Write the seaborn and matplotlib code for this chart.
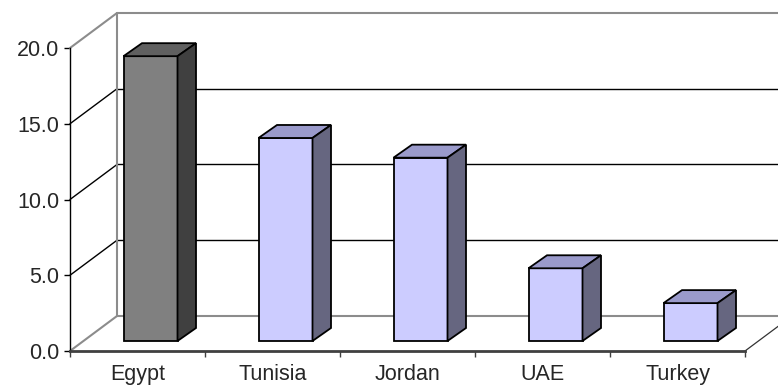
import matplotlib
matplotlib.use("Agg")
import matplotlib.pyplot as plt
from matplotlib.patches import Polygon
from matplotlib.transforms import ScaledTranslation
from matplotlib.ticker import FixedLocator, FormatStrFormatter
import seaborn as sns

# Data
countries = ["Egypt", "Tunisia", "Jordan", "UAE", "Turkey"]
values = [18.8, 13.4, 12.1, 4.8, 2.5]
y_ticks = [0, 5, 10, 15, 20]

# Face colours (front, top, side) for the highlighted bar and the others
front_hi, top_hi, side_hi = "#808080", "#606060", "#404040"
front_lo, top_lo, side_lo = "#ccccff", "#9a9acb", "#666680"

sns.set_style("white")
plt.rcParams["font.family"] = ["Liberation Sans", "DejaVu Sans"]

W, H, DPI = 778, 387, 100
fig = plt.figure(figsize=(W / DPI, H / DPI), dpi=DPI)
ax = fig.add_axes([70 / W, (H - 351) / H, 675 / W, 303 / H])

fronts = [front_hi] + [front_lo] * (len(countries) - 1)
tops = [top_hi] + [top_lo] * (len(countries) - 1)
sides = [side_hi] + [side_lo] * (len(countries) - 1)

sns.barplot(x=countries, y=values, hue=countries, palette=fronts, legend=False,
            saturation=1, width=0.4, edgecolor="black", linewidth=1.3, ax=ax,
            zorder=5)

ax.set_xlim(-0.5, len(countries) - 0.5)
ax.set_ylim(0, 20)

# pixel -> data unit conversion for depth offsets
ax_w_px = 675
ax_h_px = 303
ux = (ax.get_xlim()[1] - ax.get_xlim()[0]) / ax_w_px
uy = (ax.get_ylim()[1] - ax.get_ylim()[0]) / ax_h_px

# depth of the chart box and of each bar, in pixels
wall_dx, wall_dy = 47, 35
bar_dx, bar_dy = 18.5, 13
shift = ScaledTranslation(13 / DPI, 10 / DPI, fig.dpi_scale_trans)

x_lo, x_hi = ax.get_xlim()
wdx, wdy = wall_dx * ux, wall_dy * uy
wall_col = "#8c8c8c"

# side wall and back wall gridlines
for v in y_ticks:
    col = wall_col if v in (0, 20) else "black"
    lw = 1.5 if v in (0, 20) else 1.0
    ax.plot([x_lo, x_lo + wdx], [v, v + wdy], color=col, lw=lw, clip_on=False, zorder=1)
    ax.plot([x_lo + wdx, x_hi + wdx], [v + wdy, v + wdy], color=col, lw=lw,
            clip_on=False, zorder=1)
ax.plot([x_lo + wdx, x_lo + wdx], [wdy, 20 + wdy], color=wall_col, lw=1.5,
        clip_on=False, zorder=1)
ax.plot([x_hi, x_hi + wdx], [0, wdy], color="#333333", lw=0.9, clip_on=False, zorder=1)

# 3D faces on each bar
bdx, bdy = bar_dx * ux, bar_dy * uy
for patch, top_c, side_c in zip(ax.patches, tops, sides):
    patch.set_transform(ax.transData + shift)
    patch.set_clip_on(False)
    x0 = patch.get_x()
    x1 = x0 + patch.get_width()
    h = patch.get_height()
    top = Polygon([(x0, h), (x1, h), (x1 + bdx, h + bdy), (x0 + bdx, h + bdy)],
                  closed=True, facecolor=top_c, edgecolor="black", lw=1.3,
                  transform=ax.transData + shift, clip_on=False, zorder=5)
    side = Polygon([(x1, 0), (x1, h), (x1 + bdx, h + bdy), (x1 + bdx, bdy)],
                   closed=True, facecolor=side_c, edgecolor="black", lw=1.3,
                   transform=ax.transData + shift, clip_on=False, zorder=5)
    ax.add_patch(top)
    ax.add_patch(side)

# axes styling
for s in ("top", "right"):
    ax.spines[s].set_visible(False)
ax.spines["left"].set_color("black")
ax.spines["left"].set_linewidth(1.0)
ax.spines["bottom"].set_color("#404040")
ax.spines["bottom"].set_linewidth(2.0)
ax.spines["left"].set_zorder(2)
ax.spines["bottom"].set_zorder(2)

ax.set_yticks(y_ticks)
ax.yaxis.set_major_formatter(FormatStrFormatter("%.1f"))
ax.tick_params(axis="y", direction="out", length=4, width=1, color="black",
               pad=3.5, labelsize=15.5, left=True)
ax.tick_params(axis="x", which="major", length=0, pad=9.5, labelsize=15.5)
ax.xaxis.set_minor_locator(FixedLocator([i - 0.5 for i in range(len(countries) + 1)]))
ax.tick_params(axis="x", which="minor", direction="out", length=4, width=1,
               color="#404040", bottom=True)
ax.set_xlabel("")
ax.set_ylabel("")
ax.set_facecolor("none")

fig.savefig("out.png", dpi=DPI)
